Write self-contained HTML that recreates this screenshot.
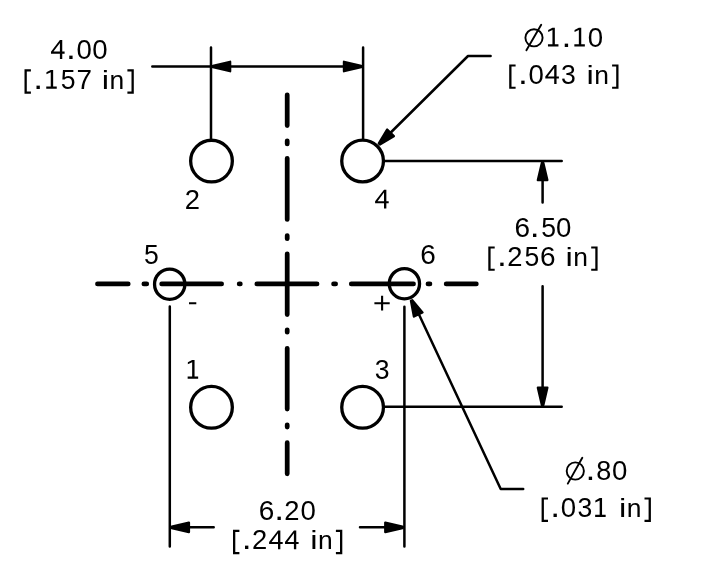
<!DOCTYPE html>
<html><head><meta charset="utf-8"><style>
html,body{margin:0;padding:0;background:#fff;width:711px;height:571px;overflow:hidden}
svg{display:block}
text{font-family:"Liberation Sans",sans-serif;font-size:26.2px;fill:#000}
</style></head><body>
<svg width="711" height="571" viewBox="0 0 711 571">
<rect width="711" height="571" fill="#fff"/>
<g fill="none" stroke="#000" stroke-linecap="round" stroke-linejoin="round">
<path d="M97.47 283.9H128.22M143.88 283.9H146.72M161.68 283.9H221.62M239.18 283.9H240.32M256.88 283.9H317.02M333.57 283.9H335.62M351.27 283.9H413.52M427.98 283.9H429.93M446.18 283.9H476.32M287.2 94.78V125.53M287.2 140.78V143.93M287.2 158.28V219.43M287.2 235.57V238.72M287.2 253.78V314.62M287.2 329.77V332.23M287.2 348.27V409.02M287.2 424.77V427.02M287.2 442.68V473.82" stroke-width="4.75"/>
<path d="M152.3 66.5H363.1M211.0 47.6V138.7M363.1 47.6V138.7M384 161H561.7M384 406.8H561.7M542.6 163V202.4M542.6 286.2V404.8M169.8 306.5V546.4M404.4 306.7V546.4M169.8 527.3H213.7M360.0 527.3H404.4M490.6 56.0H468.0L385.2 138M523.2 489.0H500.7L415 306" stroke-width="2.5"/>
<g stroke-width="3.3"><circle cx="211.5" cy="161.1" r="20.85"/><circle cx="362.6" cy="161.0" r="20.85"/><circle cx="211.5" cy="407.3" r="20.85"/><circle cx="362.6" cy="407.3" r="20.85"/><circle cx="169.7" cy="284.2" r="15.15"/><circle cx="404.4" cy="283.7" r="15.15"/></g>
<path d="M189.0 303.3H196.3M374.4 303.2H389.7M382.1 295.8V310.6" stroke-width="2.1" stroke-linecap="butt"/>
<g stroke-width="1.9"><circle cx="534.0" cy="37.8" r="8.6"/><path d="M526.4 50.2L541.2 24.7"/><circle cx="575.3" cy="471.0" r="8.6"/><path d="M567.8 483.6L582.3 457.8"/></g>
</g>
<path d="M212.92 67.20L230.10 71.20L230.10 61.80L212.92 65.80ZM361.18 65.80L344.00 61.80L344.00 71.20L361.18 67.20ZM541.90 162.92L537.90 180.10L547.30 180.10L543.30 162.92ZM543.30 404.88L547.30 387.70L537.90 387.70L541.90 404.88ZM171.72 528.00L188.90 532.00L188.90 522.60L171.72 526.60ZM402.48 526.60L385.30 522.60L385.30 532.00L402.48 528.00ZM379.85 144.44L393.78 136.20L387.15 129.55L378.87 143.45ZM410.99 300.84L413.94 316.45L422.44 312.44L412.25 300.24Z" fill="#000" stroke="#000" stroke-width="2.4" stroke-linejoin="round"/>
<path d="M50.75 69.90L53.15 69.90L53.15 86.55L56.75 86.55L56.75 88.80L46.25 88.80L46.25 86.55L50.75 86.55L50.75 72.20L46.45 74.30L46.45 72.20L50.75 69.90ZM599.65 498.10L602.05 498.10L602.05 514.75L605.65 514.75L605.65 517.00L595.15 517.00L595.15 514.75L599.65 514.75L599.65 500.40L595.35 502.50L595.35 500.40L599.65 498.10ZM552.45 27.70L554.85 27.70L554.85 44.35L558.45 44.35L558.45 46.60L547.95 46.60L547.95 44.35L552.45 44.35L552.45 30.00L548.15 32.10L548.15 30.00L552.45 27.70ZM578.85 27.70L581.25 27.70L581.25 44.35L584.85 44.35L584.85 46.60L574.35 46.60L574.35 44.35L578.85 44.35L578.85 30.00L574.55 32.10L574.55 30.00L578.85 27.70ZM192.15 359.90L194.55 359.90L194.55 376.55L198.15 376.55L198.15 378.80L187.65 378.80L187.65 376.55L192.15 376.55L192.15 362.20L187.85 364.30L187.85 362.20L192.15 359.90ZM24.50 69.30H30.90V71.40H26.80V91.60H30.90V93.70H24.50ZM133.80 69.30H127.40V71.40H131.50V91.60H127.40V93.70H133.80ZM509.20 64.40H515.60V66.50H511.50V86.70H515.60V88.80H509.20ZM618.50 64.40H612.10V66.50H616.20V86.70H612.10V88.80H618.50ZM488.30 246.40H494.70V248.50H490.60V268.70H494.70V270.80H488.30ZM597.60 246.40H591.20V248.50H595.30V268.70H591.20V270.80H597.60ZM541.60 497.50H548.00V499.60H543.90V519.80H548.00V521.90H541.60ZM650.90 497.50H644.50V499.60H648.60V519.80H644.50V521.90H650.90ZM233.00 529.80H239.40V531.90H235.30V552.10H239.40V554.20H233.00ZM342.30 529.80H335.90V531.90H340.00V552.10H335.90V554.20H342.30Z" fill="#000"/>
<path d="M554.20 65.00L556.55 65.00L556.55 76.50L558.90 76.50L558.90 78.60L556.55 78.60L556.55 83.90L554.20 83.90L554.20 78.60L545.30 78.60L545.30 76.60ZM547.80 76.50L554.20 76.50L554.20 67.90ZM278.00 530.40L280.35 530.40L280.35 541.90L282.70 541.90L282.70 544.00L280.35 544.00L280.35 549.30L278.00 549.30L278.00 544.00L269.10 544.00L269.10 542.00ZM271.60 541.90L278.00 541.90L278.00 533.30ZM293.90 530.40L296.25 530.40L296.25 541.90L298.60 541.90L298.60 544.00L296.25 544.00L296.25 549.30L293.90 549.30L293.90 544.00L285.00 544.00L285.00 542.00ZM287.50 541.90L293.90 541.90L293.90 533.30ZM59.90 40.10L62.25 40.10L62.25 51.60L64.60 51.60L64.60 53.70L62.25 53.70L62.25 59.00L59.90 59.00L59.90 53.70L51.00 53.70L51.00 51.70ZM53.50 51.60L59.90 51.60L59.90 43.00ZM384.00 189.70L386.35 189.70L386.35 201.20L388.70 201.20L388.70 203.30L386.35 203.30L386.35 208.60L384.00 208.60L384.00 203.30L375.10 203.30L375.10 201.30ZM377.60 201.20L384.00 201.20L384.00 192.60Z" fill="#000" fill-rule="evenodd"/>
<g style="will-change:transform">
<text transform="translate(33.23,88.80) scale(1.352,1.200)">.</text>
<text transform="translate(60.64,88.80) scale(1.015,1.060)">5</text>
<text transform="translate(76.58,88.80) scale(1.065,1.060)">7</text>
<text transform="translate(101.79,88.80) scale(1.258,1.000)">i</text>
<text transform="translate(109.55,88.80) scale(1.010,1.000)">n</text>
<text transform="translate(517.93,83.90) scale(1.352,1.200)">.</text>
<text transform="translate(528.42,83.90) scale(1.054,1.060)">0</text>
<text transform="translate(560.89,83.90) scale(1.015,1.060)">3</text>
<text transform="translate(586.49,83.90) scale(1.258,1.000)">i</text>
<text transform="translate(594.25,83.90) scale(1.010,1.000)">n</text>
<text transform="translate(497.03,265.90) scale(1.352,1.200)">.</text>
<text transform="translate(507.23,265.90) scale(1.046,1.060)">2</text>
<text transform="translate(524.44,265.90) scale(1.015,1.060)">5</text>
<text transform="translate(539.97,265.90) scale(1.068,1.060)">6</text>
<text transform="translate(565.59,265.90) scale(1.258,1.000)">i</text>
<text transform="translate(573.35,265.90) scale(1.010,1.000)">n</text>
<text transform="translate(550.33,517.00) scale(1.352,1.200)">.</text>
<text transform="translate(560.82,517.00) scale(1.054,1.060)">0</text>
<text transform="translate(577.39,517.00) scale(1.015,1.060)">3</text>
<text transform="translate(618.89,517.00) scale(1.258,1.000)">i</text>
<text transform="translate(626.65,517.00) scale(1.010,1.000)">n</text>
<text transform="translate(241.73,549.30) scale(1.352,1.200)">.</text>
<text transform="translate(251.93,549.30) scale(1.046,1.060)">2</text>
<text transform="translate(310.29,549.30) scale(1.258,1.000)">i</text>
<text transform="translate(318.05,549.30) scale(1.010,1.000)">n</text>
<text transform="translate(65.98,59.00) scale(1.352,1.200)">.</text>
<text transform="translate(76.42,59.00) scale(1.054,1.060)">0</text>
<text transform="translate(92.32,59.00) scale(1.054,1.060)">0</text>
<text transform="translate(514.47,237.20) scale(1.068,1.060)">6</text>
<text transform="translate(529.78,237.20) scale(1.352,1.200)">.</text>
<text transform="translate(541.24,237.20) scale(1.015,1.060)">5</text>
<text transform="translate(556.12,237.20) scale(1.054,1.060)">0</text>
<text transform="translate(258.87,520.10) scale(1.068,1.060)">6</text>
<text transform="translate(274.18,520.10) scale(1.352,1.200)">.</text>
<text transform="translate(284.33,520.10) scale(1.046,1.060)">2</text>
<text transform="translate(300.52,520.10) scale(1.054,1.060)">0</text>
<text transform="translate(561.38,46.60) scale(1.352,1.200)">.</text>
<text transform="translate(587.72,46.60) scale(1.054,1.060)">0</text>
<text transform="translate(585.58,479.90) scale(1.352,1.200)">.</text>
<text transform="translate(596.14,479.90) scale(1.031,1.060)">8</text>
<text transform="translate(611.92,479.90) scale(1.054,1.060)">0</text>
<text transform="translate(184.83,208.80) scale(1.046,1.060)">2</text>
<text transform="translate(374.79,378.80) scale(1.015,1.060)">3</text>
<text transform="translate(143.94,263.50) scale(1.015,1.060)">5</text>
<text transform="translate(420.27,263.60) scale(1.068,1.060)">6</text>
</g>
</svg>
</body></html>
